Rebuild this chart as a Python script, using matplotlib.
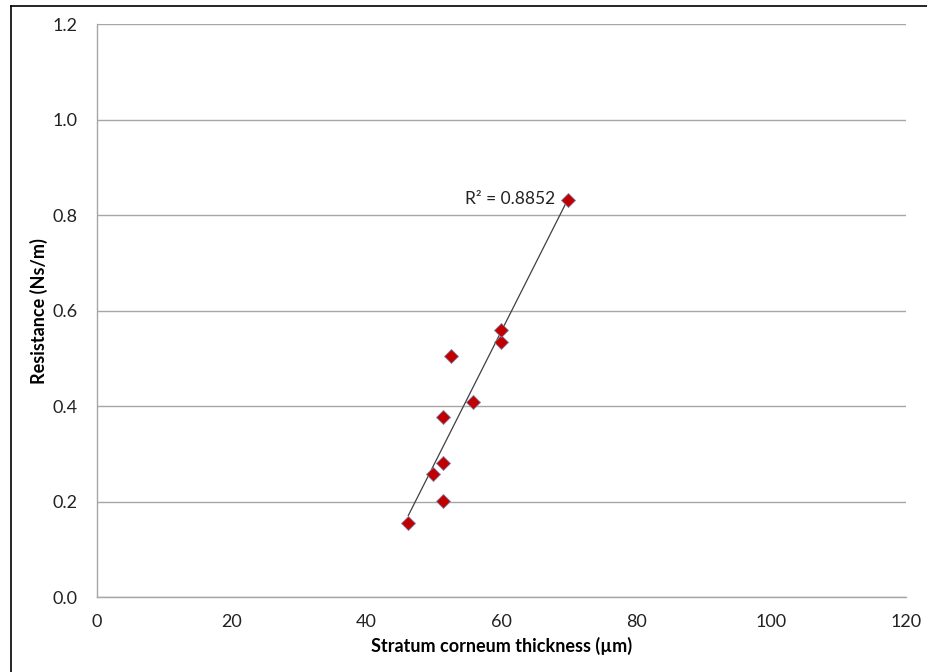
import numpy as np
import matplotlib
matplotlib.use("Agg")
import matplotlib.pyplot as plt
from matplotlib.lines import Line2D

# Data
thickness = [46.2, 49.8, 51.3, 51.3, 51.3, 52.6, 55.8, 59.9, 59.9, 69.9]
resistance = [0.156, 0.258, 0.280, 0.202, 0.377, 0.506, 0.409, 0.535, 0.560, 0.832]
r2_label = "R² = 0.8852"
x_ticks = [0, 20, 40, 60, 80, 100, 120]
y_ticks = [0.0, 0.2, 0.4, 0.6, 0.8, 1.0, 1.2]
x_label = "Stratum corneum thickness (µm)"
y_label = "Resistance (Ns/m)"

plt.rcParams['font.family'] = ['Lato', 'DejaVu Sans']

fig = plt.figure(figsize=(9.27, 6.72), dpi=100)
ax = fig.add_axes([96.7/927, 1-597/672, (906-96.7)/927, (597-24.3)/672])

ax.set_xlim(0, 120)
ax.set_ylim(0, 1.2)
ax.set_xticks(x_ticks)
ax.set_yticks(y_ticks)
ax.set_xticklabels([str(v) for v in x_ticks])
ax.set_yticklabels([f"{v:.1f}" for v in y_ticks])
ax.tick_params(axis='both', length=0, labelsize=13, colors='#222222')
ax.tick_params(axis='y', pad=14)
ax.tick_params(axis='x', pad=12)

ax.grid(axis='y', color='#a6a6a6', linewidth=1)
ax.set_axisbelow(True)
for s in ['top', 'right']:
    ax.spines[s].set_visible(False)
for s in ['left', 'bottom']:
    ax.spines[s].set_color('#a6a6a6')
    ax.spines[s].set_linewidth(1)

# Linear trendline across the data range
xs = np.array(thickness)
ys = np.array(resistance)
m, b = np.polyfit(xs, ys, 1)
xl = np.array([xs.min(), xs.max()])
ax.plot(xl, m*xl + b, color='#404040', linewidth=0.9, zorder=2)

ax.plot(thickness, resistance, linestyle='none', marker='D', markersize=7.5,
        markerfacecolor='#c00000', markeredgecolor='#7f7fa8', markeredgewidth=0.6, zorder=3,
        clip_on=False)

ax.text(xs.max() - 2.0, ys.max() + 0.002, r2_label, ha='right', va='center', fontsize=12.5, color='#222222')

ax.set_xlabel(x_label, fontsize=13, fontweight='bold', labelpad=5)
ax.set_ylabel(y_label, fontsize=13, fontweight='bold', labelpad=3)

# outer chart border (left and top visible)
fig.add_artist(Line2D([11/927, 11/927], [0, 1-6/672], transform=fig.transFigure, color='black', linewidth=1.2))
fig.add_artist(Line2D([11/927, 1], [1-6/672, 1-6/672], transform=fig.transFigure, color='black', linewidth=1.2))

fig.savefig("out.png", dpi=100)
